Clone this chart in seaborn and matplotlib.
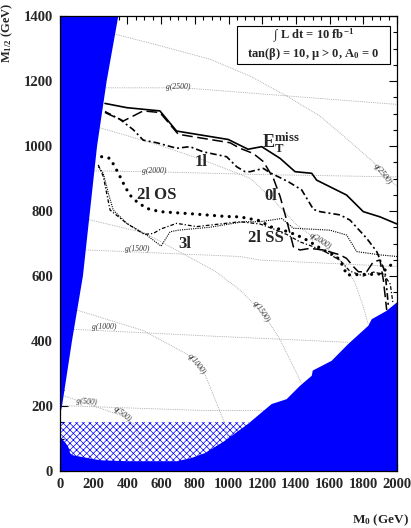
import matplotlib
matplotlib.use("Agg")
import matplotlib.pyplot as plt
import seaborn as sns
import pandas as pd
from matplotlib.patches import Rectangle

# ---------------- data (M0, M1/2 in GeV) ----------------
et_m0 = [267, 396, 593, 692, 999, 1116, 1197, 1306, 1395, 1494, 1523, 1701, 1800, 1899, 2000]
et_m12 = [1131, 1118, 1108, 1046, 1020, 990, 998, 962, 921, 916, 895, 849, 798, 782, 760]

l0_m0 = [267, 376, 494, 593, 702, 1009, 1068, 1147, 1207, 1266, 1306, 1345, 1385, 1424, 1484,
         1563, 1662, 1701, 1741, 1771, 1820, 1860, 1899, 1919, 1939]
l0_m12 = [1103, 1077, 1108, 1103, 1036, 1010, 993, 977, 952, 901, 845, 772, 690, 680, 685,
          680, 665, 654, 629, 613, 613, 644, 649, 588, 495]

l1_m0 = [267, 356, 435, 494, 574, 692, 771, 850, 989, 1049, 1098, 1128, 1207, 1246, 1355,
         1434, 1504, 1543, 1662, 1721, 1820, 1880, 1929, 1939, 1949]
l1_m12 = [1106, 1082, 1050, 1018, 1010, 993, 998, 982, 967, 936, 921, 921, 931, 918, 890,
          865, 805, 798, 788, 772, 716, 675, 613, 562, 505]

os_m0 = [247, 297, 326, 356, 386, 415, 455, 514, 593, 791, 989, 1068, 1187, 1246, 1325,
         1405, 1464, 1563, 1642, 1682, 1701, 1800, 1889, 1949, 1990]
os_m12 = [967, 962, 936, 906, 875, 849, 829, 808, 798, 791, 783, 782, 770, 752, 741,
          726, 711, 680, 660, 629, 603, 605, 605, 625, 650]

ss_m0 = [227, 257, 297, 396, 500, 554, 600, 692, 811, 1068, 1187, 1266, 1345, 1424, 1504,
         1583, 1662, 1720, 1800, 1860, 1920, 1960, 1975]
ss_m12 = [942, 906, 803, 762, 728, 731, 745, 762, 752, 767, 760, 745, 728, 705, 690,
          672, 648, 615, 600, 612, 606, 575, 520]

l3_m0 = [227, 257, 287, 316, 396, 514, 600, 653, 702, 890, 1088, 1187, 1316, 1385, 1602,
         1701, 1761, 1899, 2000]
l3_m12 = [936, 916, 854, 803, 762, 726, 692, 736, 741, 750, 767, 767, 777, 747, 741,
          726, 675, 665, 660]

# gluino / squark iso-mass contours
g2500_m0 = [240, 731, 1227, 2000]; g2500_m12 = [1179, 1179, 1159, 1128]
g2000_m0 = [150, 600, 1200, 2000]; g2000_m12 = [924, 920, 912, 905]
g1500_m0 = [80, 1068, 1187, 2000]; g1500_m12 = [682, 660, 649, 629]
g1000_m0 = [40, 860, 1711]; g1000_m12 = [437, 416, 396]
g500_m0 = [20, 860, 1230]; g500_m12 = [201, 186, 186]
q500_m0 = [20, 368, 435, 500]; q500_m12 = [232, 170, 145, 60]
q1000_m0 = [70, 494, 752, 811, 860, 979, 1000]; q1000_m12 = [500, 432, 360, 329, 298, 145, 90]
q1500_m0 = [150, 500, 920, 1068, 1199, 1300, 1436]; q1500_m12 = [776, 733, 615, 557, 489, 410, 268]
q2000_m0 = [237, 574, 849, 1128, 1266, 1405, 1543, 1682, 1750, 1800, 1830]
q2000_m12 = [1056, 1005, 957, 901, 834, 757, 706, 640, 580, 505, 450]
q2500_m0 = [300, 633, 890, 1128, 1345, 1543, 1682, 1850, 2000]
q2500_m12 = [1348, 1303, 1267, 1215, 1154, 1092, 1031, 955, 875]

# excluded regions
left_m0 = [0, 346, 277, 220, 178, 136, 71, 12, 0]
left_m12 = [1400, 1400, 1200, 1000, 800, 600, 400, 200, 172]
bot_m0 = [0, 10, 35, 48, 60, 72, 100, 237, 400, 694, 780, 860, 979, 1116, 1256, 1345, 1424,
          1494, 1500, 1612, 1711, 1830, 1850, 1939, 2000, 2000, 0]
bot_m12 = [105, 100, 85, 75, 55, 49, 46, 33, 30, 30, 40, 55, 93, 145, 206, 221, 262,
           293, 309, 339, 391, 447, 467, 493, 519, 0, 0]
hatch_m0 = [0, 1120]
hatch_top = 150

tick_x = list(range(0, 2001, 200))
tick_y = list(range(0, 1401, 200))

# ---------------- style ----------------
sns.set_theme(style="white")
plt.rcParams['font.family'] = ['Liberation Serif', 'DejaVu Serif']
plt.rcParams['font.weight'] = 'bold'
plt.rcParams['mathtext.fontset'] = 'custom'
plt.rcParams['mathtext.rm'] = 'Liberation Serif:bold'
plt.rcParams['mathtext.bf'] = 'Liberation Serif:bold'
plt.rcParams['mathtext.it'] = 'Liberation Serif:bold'
plt.rcParams['hatch.linewidth'] = 0.5

fig = plt.figure(figsize=(4.11, 5.28), dpi=100)
ax = fig.add_axes([60/411, 57/528, 337/411, 455/528])
ax.set_facecolor('white')

BLUE = '#0000ff'

# hatched region
ax.fill_between(hatch_m0, 0, hatch_top, facecolor='none', edgecolor=BLUE,
                hatch='xxxxx', linewidth=0, zorder=1)

# gray contours
contours = [
    (g2500_m0, g2500_m12), (g2000_m0, g2000_m12), (g1500_m0, g1500_m12),
    (g1000_m0, g1000_m12), (g500_m0, g500_m12), (q500_m0, q500_m12),
    (q1000_m0, q1000_m12), (q1500_m0, q1500_m12), (q2000_m0, q2000_m12),
    (q2500_m0, q2500_m12)]
for xs, ys in contours:
    d = pd.DataFrame({'m0': xs, 'm12': ys})
    sns.lineplot(data=d, x='m0', y='m12', sort=False, estimator=None, ax=ax,
                 color='#a0a0a0', linewidth=0.6, linestyle=(0, (1, 1.2)), zorder=2)

# excluded regions
ax.fill(left_m0, left_m12, color=BLUE, lw=0, zorder=3)
ax.fill(bot_m0, bot_m12, color=BLUE, lw=0, zorder=3)

# reach curves
curves = [
    (et_m0, et_m12, dict(linestyle='-', linewidth=1.2)),
    (l0_m0, l0_m12, dict(linestyle=(0, (7, 3)), linewidth=1.1)),
    (l1_m0, l1_m12, dict(linestyle=(0, (4, 1.8, 1.2, 1.8)), linewidth=1.2)),
    (os_m0, os_m12, dict(linestyle=(0, (0.01, 2.3)), linewidth=2.3,
                         dash_capstyle='round')),
    (ss_m0, ss_m12, dict(linestyle=(0, (3, 1.6, 1, 1.6)), linewidth=0.9)),
    (l3_m0, l3_m12, dict(linestyle=(0, (1, 1)), linewidth=0.8)),
]
for xs, ys, st in curves:
    d = pd.DataFrame({'m0': xs, 'm12': ys})
    sns.lineplot(data=d, x='m0', y='m12', sort=False, estimator=None, ax=ax,
                 color='black', zorder=4, **st)

# axes
ax.set_xlim(0, 2000)
ax.set_ylim(0, 1400)
ax.set_xticks(tick_x)
ax.set_yticks(tick_y)
ax.set_xticklabels([str(v) for v in tick_x], fontsize=10.5, fontweight='bold')
ax.set_yticklabels([str(v) for v in tick_y], fontsize=10.5, fontweight='bold')
ax.set_xticks(range(0, 2001, 50), minor=True)
ax.set_yticks(range(0, 1401, 50), minor=True)
ax.tick_params(which='both', direction='in', top=True, right=True, bottom=True, left=True,
               width=0.8, color='black')
ax.tick_params(which='major', length=6)
ax.tick_params(which='minor', length=3)
ax.tick_params(axis='x', pad=5)
ax.tick_params(axis='y', pad=5)
for sp in ax.spines.values():
    sp.set_color('black')
    sp.set_linewidth(0.9)
    sp.set_zorder(6)
ax.set_xlabel('')
ax.set_ylabel('')

fig.text(7/411, 1 - 2/528, r'$\mathbf{M_{1/2}}$ (GeV)', rotation=90, ha='center', va='top',
         fontsize=9, fontweight='bold')
fig.text(380/411, 1 - 520/528, r'$\mathbf{M_0}$ (GeV)', ha='center', va='center',
         fontsize=9.5, fontweight='bold')

# legend box
bx0, by0, bx1, by1 = 237/411, 1 - 64/528, 390/411, 1 - 26/528
fig.patches.append(Rectangle((bx0, by0), bx1 - bx0, by1 - by0, transform=fig.transFigure,
                             facecolor='white', edgecolor='black', linewidth=0.8, zorder=10))
fig.text((bx0 + bx1) / 2, 1 - 36/528, r'∫ L dt = 10 fb$^{\mathbf{-1}}$', ha='center',
         va='center', fontsize=9, fontweight='bold', zorder=11)
fig.text((bx0 + bx1) / 2, 1 - 54/528, r'tan(β) = 10, μ > 0, A$_{\mathbf{0}}$ = 0', ha='center',
         va='center', fontsize=9, fontweight='bold', zorder=11)

# curve labels
ax.text(1200, 1010, r'$\mathbf{E_T^{miss}}$', fontsize=13, ha='left', va='center', zorder=7)
ax.text(800, 950, '1l', fontsize=12, ha='left', va='center', zorder=7)
ax.text(1215, 846, '0l', fontsize=12, ha='left', va='center', zorder=7)
ax.text(455, 849, '2l OS', fontsize=12, ha='left', va='center', zorder=7)
ax.text(700, 698, '3l', fontsize=12, ha='left', va='center', zorder=7)
ax.text(1116, 718, '2l SS', fontsize=12, ha='left', va='center', zorder=7)

# contour labels
clabs = [
    ('g(2500)', 700, 1182, 0), ('g(2000)', 560, 924, 0), ('g(1500)', 460, 684, 0),
    ('g(1000)', 260, 442, 0), ('g(500)', 160, 214, -5),
    ('q(500)', 370, 176, -38), ('q(1000)', 810, 330, -52), ('q(1500)', 1195, 490, -55),
    ('q(2000)', 1545, 706, -32), ('q(2500)', 1915, 912, -52)]
for t, x, y, r in clabs:
    ax.text(x, y, t, fontsize=5.5, rotation=r, ha='center', va='center', color='#333333',
            fontweight='normal', fontstyle='italic', zorder=5)

fig.savefig('out.png', dpi=100)
